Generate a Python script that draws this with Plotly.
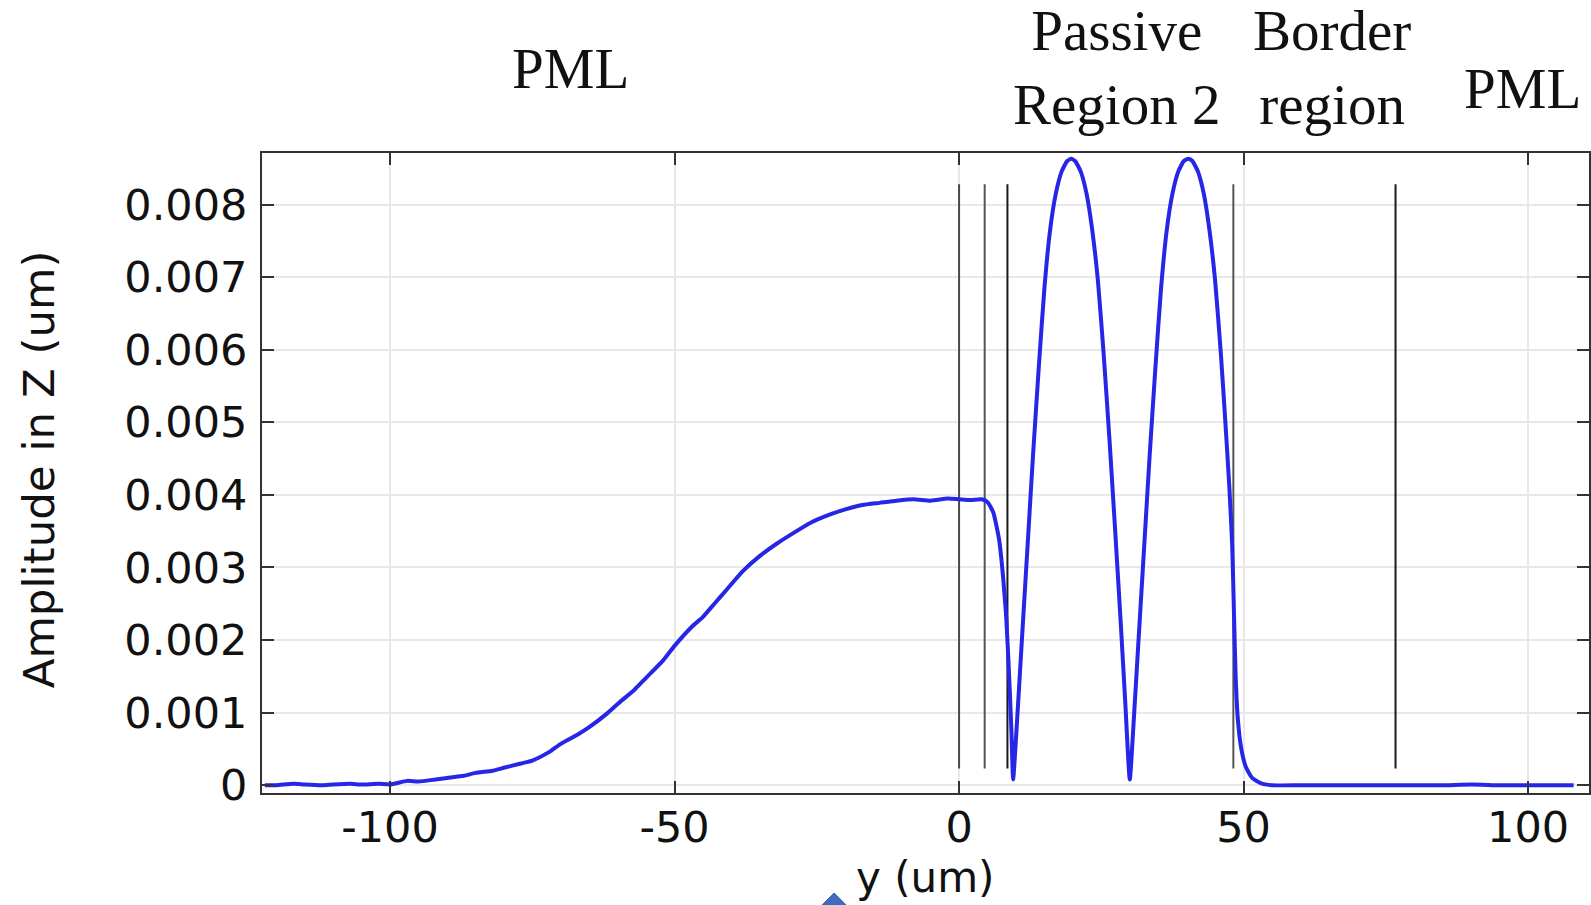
import plotly.graph_objects as go

# Out-of-plane displacement amplitude along y (values in um)
y_pos = [-122, -120, -117, -115, -112, -110, -107, -105, -102, -100, -97, -95, -92, -90,
         -87, -85, -82, -80, -77, -75, -72, -70, -67, -65, -62, -60, -57, -55, -52, -50,
         -47, -45, -43, -41, -38, -35, -32, -29, -26, -23, -20, -17, -14, -11, -8, -5,
         -2, 0, 2, 4, 5, 6, 7, 7.7, 8.3, 8.8, 9.2, 9.5, 10.2, 11.0, 12.0, 13.0, 14.0,
         15.0, 16.0, 17.0, 18.0, 19.0, 19.7, 20.4, 21.4, 22.4, 23.4, 24.4, 25.4, 26.4,
         27.4, 28.4, 29.2, 30.0, 30.7, 31.5, 32.5, 33.5, 34.5, 35.5, 36.5, 37.5, 38.5,
         39.5, 40.3, 41.0, 42.0, 43.0, 44.0, 45.0, 46.0, 46.8, 47.5, 48.0, 48.3, 48.6,
         49.0, 49.6, 50.4, 51.5, 53.0, 55.0, 60, 65, 70, 75, 80, 85, 90, 95, 100, 105, 108]
amp_e3 = [0.00, 0.00, 0.02, 0.01, 0.00, 0.01, 0.02, 0.01, 0.02, 0.01, 0.06, 0.05, 0.08, 0.10,
          0.13, 0.17, 0.20, 0.24, 0.30, 0.34, 0.46, 0.57, 0.70, 0.80, 0.98, 1.12, 1.32, 1.48,
          1.72, 1.92, 2.18, 2.32, 2.50, 2.68, 2.95, 3.16, 3.33, 3.48, 3.62, 3.72, 3.80, 3.86,
          3.89, 3.92, 3.94, 3.92, 3.95, 3.94, 3.93, 3.94, 3.90, 3.76, 3.40, 2.90, 2.30, 1.50,
          0.75, 0.08, 0.90, 1.95, 3.25, 4.55, 5.75, 6.85, 7.65, 8.15, 8.45, 8.60, 8.63, 8.60,
          8.45, 8.15, 7.65, 6.95, 5.95, 4.80, 3.55, 2.25, 1.15, 0.08, 0.90, 1.95, 3.25, 4.55,
          5.75, 6.85, 7.65, 8.15, 8.45, 8.60, 8.63, 8.60, 8.45, 8.15, 7.65, 6.95, 5.95, 5.00,
          4.10, 3.30, 2.40, 1.50, 0.90, 0.50, 0.25, 0.10, 0.03, 0.00, 0.00, 0.00, 0.00, 0.00,
          0.00, 0.00, 0.01, 0.00, 0.00, 0.00, 0.00]
amplitude = [v * 1e-3 for v in amp_e3]

# Domain boundaries (y positions, um) and their drawn extent
boundaries = [0, 4.5, 8.5, 48.2, 76.7]
boundary_colors = ["#4a4a4a", "#555555", "#1a1a1a", "#555555", "#1a1a1a"]
boundary_span = [0.00023, 0.00828]

# Region labels above the plot (pixel anchors on the page)
region_labels = ["PML", "Passive<br>Region 2", "Border<br>region", "PML"]
region_px = [571, 1118, 1334, 1524]
region_py = [69, 67, 67, 89]

x_ticks = [-100, -50, 0, 50, 100]
x_ticktext = ["-100", "-50", "0", "50", "100"]
y_ticks = [0, 0.001, 0.002, 0.003, 0.004, 0.005, 0.006, 0.007, 0.008]
y_ticktext = ["0", "0.001", "0.002", "0.003", "0.004", "0.005", "0.006", "0.007", "0.008"]

W, H = 1591, 905
L, R, T, B = 262, 0, 153, 112

fig = go.Figure()

for xb, col in zip(boundaries, boundary_colors):
    fig.add_trace(go.Scatter(
        x=[xb, xb], y=boundary_span, mode="lines",
        line=dict(color=col, width=2), hoverinfo="skip", showlegend=False))

fig.add_trace(go.Scatter(
    x=y_pos, y=amplitude, mode="lines",
    line=dict(color="#2626e6", width=4, shape="spline", smoothing=0.5),
    showlegend=False))

serif = "Liberation Serif, Times New Roman, serif"
sans = "DejaVu Sans, Verdana, sans-serif"

pw = W - L - R
ph = H - T - B


def px_to_paper(px, py):
    return (px - L) / pw, (H - B - py) / ph


for txt, qx, qy in zip(region_labels, region_px, region_py):
    ax_, ay_ = px_to_paper(qx, qy)
    fig.add_annotation(x=ax_, y=ay_, xref="paper", yref="paper", text=txt, showarrow=False,
                       font=dict(family=serif, size=57, color="#111111"),
                       xanchor="center", yanchor="middle", align="center")

# axis titles
tx, ty = px_to_paper(927, 877)
fig.add_annotation(x=tx, y=ty, xref="paper", yref="paper", text="y (um)", showarrow=False,
                   font=dict(family=sans, size=42, color="#111111"),
                   xanchor="center", yanchor="middle")
tx, ty = px_to_paper(39, 469)
fig.add_annotation(x=tx, y=ty, xref="paper", yref="paper", text="Amplitude in Z (um)",
                   showarrow=False, textangle=-90,
                   font=dict(family=sans, size=43.5, color="#111111"),
                   xanchor="center", yanchor="middle")

# small blue diamond marker below the axis
pts = [(835, 893), (851, 909), (835, 925), (819, 909)]
path = "M " + " L ".join(f"{px_to_paper(a, b)[0]:.5f},{px_to_paper(a, b)[1]:.5f}" for a, b in pts) + " Z"
fig.add_shape(type="path", path=path, xref="paper", yref="paper",
              fillcolor="#3f6cbf", line=dict(color="#2f5aa8", width=1), layer="above")

axis_common = dict(
    showline=True, linecolor="#333333", linewidth=2, mirror="ticks",
    ticks="inside", ticklen=12, tickwidth=2, tickcolor="#333333",
    showgrid=True, gridcolor="#e8e8e8", gridwidth=1.5, zeroline=False,
    tickfont=dict(family=sans, size=43, color="#111111"),
)

fig.update_xaxes(range=[-122.5, 110.7], tickvals=x_ticks, ticktext=x_ticktext,
                 ticklabelstandoff=-5, **axis_common)
fig.update_yaxes(range=[-0.000107, 0.00871], tickvals=y_ticks, ticktext=y_ticktext,
                 ticklabelstandoff=4, **axis_common)

fig.update_layout(
    width=W, height=H, autosize=False,
    margin=dict(l=L, r=R, t=T, b=B, pad=0),
    paper_bgcolor="white", plot_bgcolor="white",
    showlegend=False,
)

fig.write_html("out.html")
